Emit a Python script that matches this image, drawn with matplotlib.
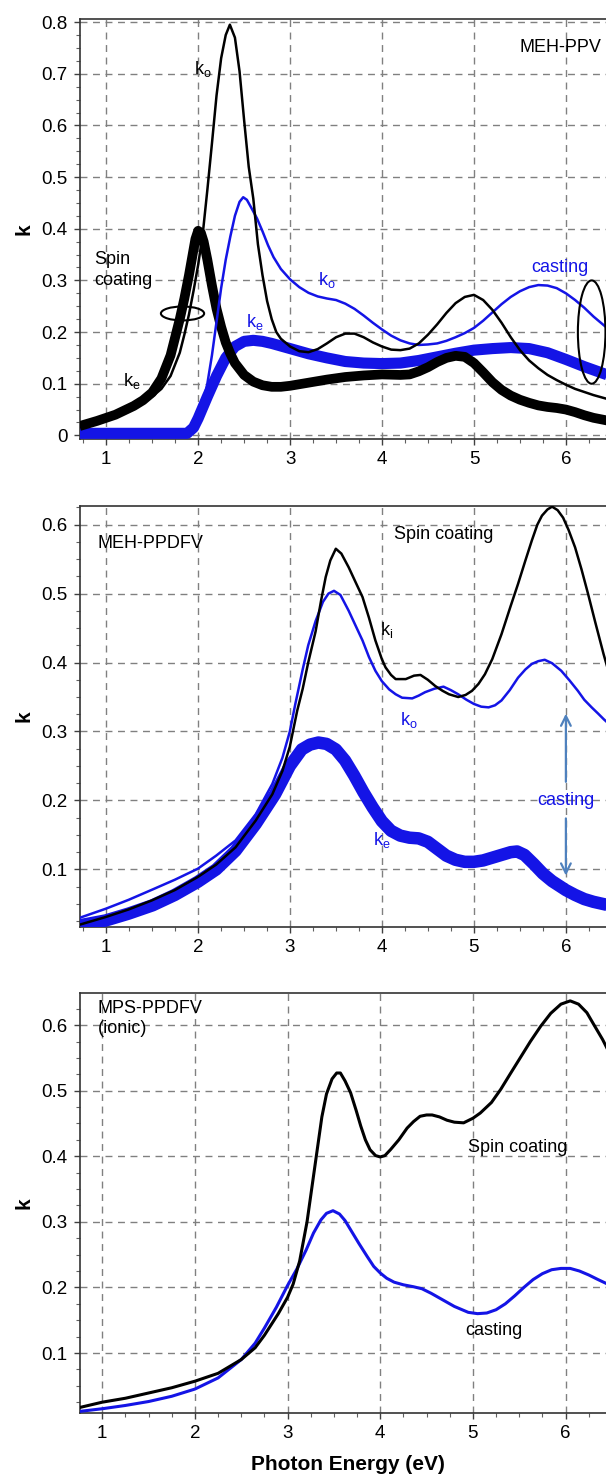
import numpy as np
import matplotlib
matplotlib.use('Agg')
import matplotlib.pyplot as plt
from matplotlib.patches import Ellipse
from matplotlib.ticker import MultipleLocator, FormatStrFormatter

plt.rcParams['font.family'] = ['Liberation Sans', 'DejaVu Sans']
plt.rcParams['mathtext.fontset'] = 'custom'
plt.rcParams['mathtext.rm'] = 'Liberation Sans'
plt.rcParams['mathtext.it'] = 'Liberation Sans'

BLUE = '#1414e6'
ARROW = '#4f81bd'

# ---- panel 1: MEH-PPV ----
e1_ko_spin = [0.71, 0.9, 1.1, 1.3, 1.5, 1.6, 1.7, 1.8, 1.85, 1.9, 1.95, 2.0, 2.05, 2.1, 2.15, 2.2,
              2.25, 2.3, 2.345, 2.4, 2.45, 2.5, 2.55, 2.6, 2.65, 2.7, 2.75, 2.8, 2.85, 2.9, 3.0,
              3.1, 3.2, 3.3, 3.4, 3.5, 3.6, 3.7, 3.8, 3.9, 4.0, 4.1, 4.2, 4.3, 4.4, 4.5, 4.6,
              4.7, 4.8, 4.9, 5.0, 5.1, 5.2, 5.3, 5.4, 5.5, 5.6, 5.7, 5.8, 5.9, 6.0, 6.1, 6.2,
              6.3, 6.5]
k1_ko_spin = [0.02, 0.03, 0.04, 0.055, 0.075, 0.09, 0.115, 0.16, 0.195, 0.234, 0.28, 0.33, 0.39,
              0.475, 0.565, 0.658, 0.73, 0.775, 0.795, 0.77, 0.705, 0.61, 0.52, 0.458, 0.37, 0.31,
              0.26, 0.225, 0.2, 0.187, 0.172, 0.163, 0.161, 0.167, 0.178, 0.19, 0.197, 0.197, 0.19,
              0.18, 0.172, 0.166, 0.165, 0.168, 0.178, 0.195, 0.215, 0.237, 0.256, 0.268, 0.272,
              0.262, 0.243, 0.218, 0.19, 0.165, 0.145, 0.13, 0.117, 0.107, 0.098, 0.09, 0.084,
              0.078, 0.068]

e1_ke_spin = [0.71, 0.9, 1.1, 1.3, 1.4, 1.5, 1.6, 1.7, 1.75, 1.8, 1.85, 1.9, 1.94, 1.97, 2.0,
              2.03, 2.06, 2.1, 2.15, 2.2, 2.25, 2.3, 2.35, 2.4, 2.5, 2.6, 2.7, 2.8, 2.9, 3.0, 3.2,
              3.4, 3.6, 3.8, 4.0, 4.2, 4.3, 4.4, 4.5, 4.6, 4.7, 4.8, 4.9, 5.0, 5.1, 5.2, 5.3, 5.4,
              5.5, 5.6, 5.7, 5.8, 5.9, 6.0, 6.1, 6.2, 6.3, 6.5]
k1_ke_spin = [0.018, 0.028, 0.04, 0.057, 0.068, 0.083, 0.11, 0.155, 0.19, 0.225, 0.265, 0.31, 0.35,
              0.38, 0.396, 0.392, 0.375, 0.34, 0.29, 0.245, 0.21, 0.18, 0.158, 0.14, 0.117, 0.104,
              0.097, 0.094, 0.094, 0.096, 0.102, 0.108, 0.113, 0.116, 0.118, 0.117, 0.118, 0.124,
              0.132, 0.142, 0.15, 0.154, 0.152, 0.14, 0.122, 0.103, 0.088, 0.077, 0.069, 0.063,
              0.058, 0.055, 0.053, 0.05, 0.045, 0.039, 0.034, 0.027]

e1_ko_cast = [0.71, 1.5, 1.88, 1.92, 1.96, 2.0, 2.05, 2.1, 2.15, 2.2, 2.25, 2.3, 2.35, 2.4, 2.45,
              2.49, 2.53, 2.58, 2.64, 2.7, 2.76, 2.82, 2.9, 3.0, 3.1, 3.2, 3.3, 3.4, 3.5, 3.6,
              3.7, 3.8, 3.9, 4.0, 4.1, 4.2, 4.3, 4.4, 4.5, 4.6, 4.7, 4.8, 4.9, 5.0, 5.1, 5.2,
              5.3, 5.4, 5.5, 5.6, 5.7, 5.8, 5.9, 6.0, 6.1, 6.2, 6.3, 6.5]
k1_ko_cast = [0.002, 0.002, 0.002, 0.004, 0.012, 0.03, 0.06, 0.1, 0.155, 0.22, 0.285, 0.34, 0.385,
              0.425, 0.452, 0.461, 0.456, 0.44, 0.42, 0.395, 0.368, 0.345, 0.322, 0.302, 0.287,
              0.276, 0.269, 0.265, 0.262, 0.255, 0.245, 0.232, 0.218, 0.205, 0.193, 0.184, 0.178,
              0.175, 0.176, 0.178, 0.183, 0.19, 0.198, 0.208, 0.222, 0.238, 0.254, 0.268, 0.279,
              0.287, 0.291, 0.29, 0.285, 0.275, 0.262, 0.247, 0.23, 0.2]

e1_ke_cast = [0.71, 1.5, 1.88, 1.95, 2.0, 2.1, 2.2, 2.3, 2.4, 2.5, 2.6, 2.7, 2.8, 3.0, 3.2, 3.4,
              3.6, 3.8, 4.0, 4.2, 4.4, 4.6, 4.8, 5.0, 5.2, 5.4, 5.6, 5.8, 6.0, 6.2, 6.5]
k1_ke_cast = [0.004, 0.004, 0.004, 0.015, 0.033, 0.075, 0.115, 0.15, 0.172, 0.182, 0.184, 0.182,
              0.178, 0.168, 0.158, 0.15, 0.143, 0.14, 0.139, 0.14, 0.145, 0.152, 0.159, 0.165,
              0.168, 0.17, 0.168, 0.16, 0.147, 0.133, 0.114]

# ---- panel 2: MEH-PPDFV ----
e2_ki = [0.72, 1.0, 1.25, 1.5, 1.75, 2.0, 2.2, 2.41, 2.63, 2.81, 2.92, 3.0, 3.08, 3.14, 3.2,
         3.28, 3.34, 3.39, 3.44, 3.5, 3.56, 3.64, 3.72, 3.79, 3.86, 3.93, 4.0, 4.04, 4.1, 4.15,
         4.26, 4.35, 4.42, 4.5, 4.58, 4.66, 4.73, 4.83, 4.91, 4.98, 5.05, 5.12, 5.2, 5.3, 5.4,
         5.48, 5.56, 5.63, 5.69, 5.74, 5.8, 5.85, 5.91, 5.97, 6.03, 6.1, 6.17, 6.24, 6.32, 6.41,
         6.5]
k2_ki = [0.02, 0.031, 0.042, 0.055, 0.07, 0.089, 0.107, 0.132, 0.171, 0.209, 0.243, 0.278, 0.33,
         0.362, 0.4, 0.445, 0.49, 0.524, 0.548, 0.565, 0.558, 0.538, 0.515, 0.495, 0.465, 0.432,
         0.405, 0.393, 0.382, 0.376, 0.376, 0.381, 0.382, 0.375, 0.366, 0.359, 0.354, 0.35,
         0.353, 0.359, 0.369, 0.383, 0.405, 0.441, 0.482, 0.514, 0.548, 0.577, 0.6, 0.613, 0.622,
         0.626, 0.621, 0.61, 0.592, 0.567, 0.535, 0.5, 0.458, 0.412, 0.37]

e2_ko = [0.72, 1.0, 1.25, 1.51, 1.75, 2.0, 2.2, 2.41, 2.63, 2.81, 2.92, 3.0, 3.06, 3.14, 3.2,
         3.28, 3.36, 3.42, 3.48, 3.55, 3.64, 3.72, 3.79, 3.86, 3.93, 4.0, 4.08, 4.15, 4.22, 4.33,
         4.4, 4.47, 4.57, 4.67, 4.75, 4.83, 4.92, 5.0, 5.08, 5.16, 5.23, 5.3, 5.39, 5.48, 5.56,
         5.63, 5.7, 5.77, 5.85, 5.95, 6.04, 6.13, 6.2, 6.28, 6.35, 6.41, 6.5]
k2_ko = [0.03, 0.043, 0.056, 0.071, 0.085, 0.101, 0.12, 0.142, 0.18, 0.224, 0.262, 0.3, 0.34, 0.39,
         0.425, 0.46, 0.488, 0.5, 0.504, 0.498, 0.475, 0.452, 0.432, 0.408, 0.388, 0.373, 0.361,
         0.354, 0.349, 0.348, 0.352, 0.357, 0.362, 0.365, 0.36, 0.354, 0.346, 0.34, 0.336, 0.335,
         0.338, 0.345, 0.36, 0.378, 0.39, 0.398, 0.402, 0.404, 0.399, 0.388, 0.374, 0.359,
         0.346, 0.335, 0.326, 0.318, 0.307]

e2_ke = [0.72, 1.0, 1.25, 1.51, 1.75, 2.0, 2.2, 2.41, 2.63, 2.84, 3.0, 3.13, 3.22, 3.31, 3.4,
         3.5, 3.6, 3.7, 3.8, 3.9, 4.0, 4.1, 4.2, 4.3, 4.4, 4.5, 4.6, 4.7, 4.8, 4.9, 5.0, 5.1,
         5.2, 5.3, 5.4, 5.47, 5.55, 5.65, 5.75, 5.85, 6.0, 6.1, 6.2, 6.3, 6.5]
k2_ke = [0.019, 0.026, 0.036, 0.048, 0.063, 0.082, 0.1, 0.127, 0.166, 0.209, 0.25, 0.274, 0.281,
         0.284, 0.282, 0.274, 0.258, 0.236, 0.212, 0.19, 0.17, 0.156, 0.149, 0.146, 0.145, 0.14,
         0.13, 0.12, 0.114, 0.111, 0.111, 0.113, 0.117, 0.121, 0.125, 0.126, 0.121, 0.108,
         0.094, 0.083, 0.07, 0.063, 0.057, 0.053, 0.047]

# ---- panel 3: MPS-PPDFV (ionic) ----
e3_spin = [0.76, 1.0, 1.25, 1.5, 1.75, 2.0, 2.25, 2.5, 2.65, 2.75, 2.9, 3.0, 3.06, 3.13, 3.21,
           3.27, 3.32, 3.37, 3.42, 3.48, 3.53, 3.57, 3.62, 3.68, 3.74, 3.79, 3.84, 3.89, 3.95,
           4.0, 4.05, 4.11, 4.2, 4.29, 4.36, 4.43, 4.5, 4.56, 4.64, 4.72, 4.8, 4.9, 5.0, 5.08,
           5.2, 5.3, 5.4, 5.51, 5.62, 5.73, 5.84, 5.95, 6.05, 6.14, 6.23, 6.3, 6.4, 6.5]
k3_spin = [0.017, 0.025, 0.031, 0.039, 0.047, 0.057, 0.069, 0.09, 0.108, 0.127, 0.16, 0.185,
           0.205, 0.24, 0.3, 0.36, 0.41, 0.46, 0.495, 0.518, 0.527, 0.527, 0.515, 0.497, 0.47,
           0.446, 0.425, 0.41, 0.401, 0.399, 0.401, 0.41, 0.425, 0.443, 0.453, 0.461, 0.463,
           0.463, 0.46, 0.455, 0.452, 0.451, 0.458, 0.466, 0.482, 0.502, 0.525, 0.55, 0.575,
           0.598, 0.618, 0.632, 0.637, 0.632, 0.619, 0.602, 0.578, 0.55]

e3_cast = [0.76, 1.0, 1.25, 1.5, 1.75, 2.0, 2.25, 2.5, 2.65, 2.75, 2.88, 3.0, 3.1, 3.2, 3.28,
           3.36, 3.42, 3.49, 3.56, 3.62, 3.68, 3.77, 3.86, 3.93, 4.0, 4.07, 4.15, 4.25, 4.36,
           4.45, 4.55, 4.65, 4.8, 4.95, 5.05, 5.15, 5.25, 5.35, 5.45, 5.55, 5.65, 5.75, 5.85,
           5.95, 6.05, 6.15, 6.25, 6.35, 6.5]
k3_cast = [0.011, 0.015, 0.02, 0.026, 0.034, 0.045, 0.062, 0.09, 0.115, 0.138, 0.17, 0.203, 0.228,
           0.257, 0.283, 0.303, 0.313, 0.317, 0.312, 0.302, 0.288, 0.267, 0.247, 0.232, 0.222,
           0.214, 0.208, 0.204, 0.201, 0.198, 0.191, 0.183, 0.171, 0.162, 0.16, 0.161, 0.166,
           0.175, 0.187, 0.2, 0.212, 0.221, 0.227, 0.229, 0.229, 0.225, 0.219, 0.212, 0.202]

W, H = 606, 1476
fig = plt.figure(figsize=(W / 100, H / 100), dpi=100)


def make_axes(top_px, bot_px, xmin, ylo, yhi, yticks):
    left = 80
    right = 612
    ax = fig.add_axes([left / W, 1 - bot_px / H, (right - left) / W, (bot_px - top_px) / H])
    px_per_unit = 91.8
    ax.set_xlim(xmin, 6.0 + (right - 566) / px_per_unit)
    ax.set_ylim(ylo, yhi)
    ax.xaxis.set_major_locator(MultipleLocator(1))
    ax.xaxis.set_minor_locator(MultipleLocator(0.25))
    ax.set_yticks(yticks)
    ax.yaxis.set_minor_locator(MultipleLocator(0.025))
    ax.yaxis.set_major_formatter(FormatStrFormatter('%g'))
    ax.grid(True, which='major', color='#808080', linestyle=(0, (5, 4)), linewidth=1.0)
    ax.tick_params(which='major', length=4, width=1, colors='#404040', labelsize=13.5,
                   labelcolor='black', pad=5)
    ax.tick_params(which='minor', length=3, width=0.8, colors='#606060')
    for s in ['left', 'bottom', 'top']:
        ax.spines[s].set_color('#333333')
        ax.spines[s].set_linewidth(1.2)
    ax.spines['right'].set_visible(False)
    ax.set_ylabel('k', fontsize=15, fontweight='bold')
    ax.yaxis.set_label_coords(-0.088, 0.5)
    return ax


# panel 1
ax1 = make_axes(19, 439, 0.715, -0.007, 0.806, np.arange(0, 0.81, 0.1))
ax1.plot(e1_ke_cast, k1_ke_cast, color=BLUE, lw=8, solid_capstyle='butt', zorder=3)
ax1.plot(e1_ke_spin, k1_ke_spin, color='black', lw=7, solid_capstyle='butt', zorder=4)
ax1.plot(e1_ko_cast, k1_ko_cast, color=BLUE, lw=1.8, zorder=5)
ax1.plot(e1_ko_spin, k1_ko_spin, color='black', lw=1.8, zorder=6)
ax1.text(5.5, 0.75, 'MEH-PPV', fontsize=13, va='center', ha='left')
ax1.text(1.95, 0.71, r'k$_{\rm o}$', fontsize=13, va='center', ha='left')
ax1.text(0.87, 0.32, 'Spin\ncoating', fontsize=13, va='center', ha='left', linespacing=1.3)
ax1.text(1.18, 0.105, r'k$_{\rm e}$', fontsize=13, va='center', ha='left')
ax1.text(3.3, 0.3, r'k$_{\rm o}$', fontsize=13, va='center', ha='left', color=BLUE)
ax1.text(2.52, 0.22, r'k$_{\rm e}$', fontsize=13, va='center', ha='left', color=BLUE)
ax1.text(5.62, 0.325, 'casting', fontsize=13, va='center', ha='left', color=BLUE)
ax1.add_patch(Ellipse((1.83, 0.236), 0.47, 0.027, fill=False, ec='black', lw=1.5, zorder=7))
ax1.add_patch(Ellipse((6.28, 0.2), 0.3, 0.2, fill=False, ec='black', lw=1.5, zorder=7))

# panel 2
ax2 = make_axes(506, 927, 0.72, 0.0165, 0.627, np.arange(0.1, 0.61, 0.1))
ax2.plot(e2_ke, k2_ke, color=BLUE, lw=9, solid_capstyle='butt', zorder=3)
ax2.plot(e2_ko, k2_ko, color=BLUE, lw=1.8, zorder=5)
ax2.plot(e2_ki, k2_ki, color='black', lw=1.8, zorder=6)
ax2.text(0.91, 0.572, 'MEH-PPDFV', fontsize=13, va='center', ha='left')
ax2.text(4.13, 0.585, 'Spin coating', fontsize=13, va='center', ha='left')
ax2.text(3.98, 0.447, r'k$_{\rm i}$', fontsize=13, va='center', ha='left')
ax2.text(4.2, 0.316, r'k$_{\rm o}$', fontsize=13, va='center', ha='left', color=BLUE)
ax2.text(3.9, 0.142, r'k$_{\rm e}$', fontsize=13, va='center', ha='left', color=BLUE)
ax2.text(6.0, 0.2, 'casting', fontsize=13, va='center', ha='center', color=BLUE, zorder=8)
ax2.annotate('', xy=(6.0, 0.33), xytext=(6.0, 0.223),
             arrowprops=dict(arrowstyle='->,head_length=0.7,head_width=0.35', color=ARROW, lw=1.6))
ax2.annotate('', xy=(6.0, 0.087), xytext=(6.0, 0.178),
             arrowprops=dict(arrowstyle='->,head_length=0.7,head_width=0.35', color=ARROW, lw=1.6))

# panel 3
ax3 = make_axes(993, 1413, 0.76, 0.0085, 0.649, np.arange(0.1, 0.61, 0.1))
ax3.plot(e3_cast, k3_cast, color=BLUE, lw=2.2, zorder=5)
ax3.plot(e3_spin, k3_spin, color='black', lw=2.2, zorder=6)
ax3.text(0.95, 0.61, 'MPS-PPDFV\n(ionic)', fontsize=13, va='center', ha='left', linespacing=1.25)
ax3.text(4.95, 0.414, 'Spin coating', fontsize=13, va='center', ha='left')
ax3.text(4.92, 0.134, 'casting', fontsize=13, va='center', ha='left')
ax3.set_xlabel('Photon Energy (eV)', fontsize=15, fontweight='bold')
ax3.xaxis.set_label_coords(0.504, -0.1)

fig.savefig('out.png', dpi=100)
